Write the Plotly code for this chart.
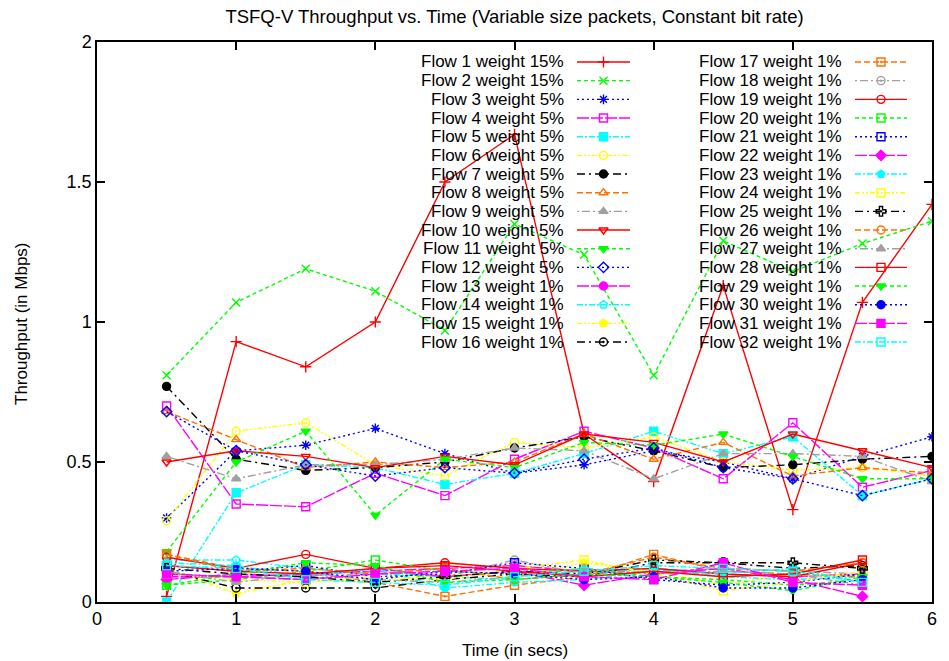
import plotly.graph_objects as go

# ---------------- data ----------------
TITLE = "TSFQ-V Throughput vs. Time (Variable size packets, Constant bit rate)"
X_LABEL = "Time (in secs)"
Y_LABEL = "Throughput (in Mbps)"

times_long = [0.5, 1, 1.5, 2, 2.5, 3, 3.5, 4, 4.5, 5, 5.5, 6]
times_short = [0.5, 1, 1.5, 2, 2.5, 3, 3.5, 4, 4.5, 5, 5.5]

flow_names = [f"Flow {i} weight {w}%" for i, w in
              zip(range(1, 33), [15, 15] + [5] * 10 + [1] * 20)]

flow01 = [0.02, 0.93, 0.84, 1.00, 1.50, 1.67, 0.60, 0.43, 1.13, 0.33, 1.07, 1.42]
flow02 = [0.81, 1.07, 1.19, 1.11, 0.97, 1.35, 1.24, 0.81, 1.29, 1.18, 1.28, 1.36]
flow03 = [0.30, 0.54, 0.56, 0.62, 0.53, 0.46, 0.49, 0.54, 0.50, 0.44, 0.52, 0.59]
flow04 = [0.70, 0.35, 0.34, 0.46, 0.38, 0.51, 0.61, 0.55, 0.44, 0.64, 0.41, 0.47]
flow05 = [0.00, 0.39, 0.49, 0.48, 0.42, 0.46, 0.53, 0.61, 0.53, 0.59, 0.38, 0.44]
flow06 = [0.29, 0.61, 0.64, 0.49, 0.45, 0.57, 0.55, 0.59, 0.50, 0.47, 0.48, 0.45]
flow07 = [0.77, 0.51, 0.47, 0.48, 0.50, 0.55, 0.59, 0.54, 0.48, 0.49, 0.51, 0.52]
flow08 = [0.68, 0.58, 0.48, 0.50, 0.48, 0.50, 0.60, 0.51, 0.57, 0.45, 0.48, 0.46]
flow09 = [0.52, 0.44, 0.49, 0.49, 0.51, 0.55, 0.54, 0.44, 0.53, 0.53, 0.52, 0.43]
flow10 = [0.50, 0.54, 0.52, 0.48, 0.52, 0.49, 0.60, 0.57, 0.50, 0.60, 0.54, 0.48]
flow11 = [0.18, 0.50, 0.61, 0.31, 0.51, 0.48, 0.57, 0.56, 0.60, 0.52, 0.44, 0.44]
flow12 = [0.68, 0.54, 0.49, 0.45, 0.48, 0.46, 0.51, 0.55, 0.48, 0.44, 0.38, 0.44]

flow13 = [0.09, 0.09, 0.10, 0.11, 0.12, 0.13, 0.11, 0.12, 0.10, 0.09, 0.10]
flow14 = [0.15, 0.15, 0.12, 0.10, 0.09, 0.08, 0.10, 0.12, 0.09, 0.08, 0.09]
flow15 = [0.12, 0.03, 0.08, 0.07, 0.10, 0.09, 0.14, 0.11, 0.06, 0.10, 0.09]
flow16 = [0.11, 0.05, 0.05, 0.05, 0.08, 0.10, 0.09, 0.14, 0.14, 0.12, 0.13]
flow17 = [0.17, 0.12, 0.11, 0.07, 0.02, 0.06, 0.09, 0.17, 0.11, 0.10, 0.09]
flow18 = [0.10, 0.09, 0.08, 0.11, 0.09, 0.15, 0.10, 0.11, 0.12, 0.11, 0.10]
flow19 = [0.16, 0.12, 0.17, 0.12, 0.14, 0.12, 0.11, 0.12, 0.10, 0.09, 0.14]
flow20 = [0.06, 0.08, 0.11, 0.15, 0.11, 0.10, 0.12, 0.09, 0.08, 0.06, 0.08]
flow21 = [0.13, 0.11, 0.13, 0.09, 0.10, 0.14, 0.12, 0.08, 0.06, 0.07, 0.10]
flow22 = [0.08, 0.10, 0.09, 0.12, 0.09, 0.11, 0.06, 0.10, 0.12, 0.08, 0.02]
flow23 = [0.14, 0.13, 0.09, 0.12, 0.05, 0.07, 0.08, 0.11, 0.10, 0.12, 0.07]
flow24 = [0.10, 0.08, 0.07, 0.09, 0.08, 0.12, 0.15, 0.10, 0.04, 0.07, 0.11]
flow25 = [0.12, 0.10, 0.09, 0.07, 0.09, 0.11, 0.10, 0.15, 0.14, 0.14, 0.12]
flow26 = [0.17, 0.11, 0.12, 0.10, 0.12, 0.08, 0.10, 0.16, 0.12, 0.11, 0.14]
flow27 = [0.11, 0.07, 0.10, 0.08, 0.07, 0.09, 0.12, 0.10, 0.11, 0.10, 0.06]
flow28 = [0.13, 0.11, 0.10, 0.12, 0.13, 0.11, 0.09, 0.11, 0.09, 0.10, 0.15]
flow29 = [0.06, 0.10, 0.14, 0.13, 0.07, 0.08, 0.10, 0.09, 0.07, 0.04, 0.09]
flow30 = [0.11, 0.12, 0.11, 0.08, 0.11, 0.10, 0.08, 0.09, 0.05, 0.05, 0.08]
flow31 = [0.10, 0.09, 0.08, 0.10, 0.11, 0.12, 0.09, 0.08, 0.14, 0.07, 0.06]
flow32 = [0.13, 0.12, 0.08, 0.07, 0.06, 0.09, 0.11, 0.13, 0.12, 0.11, 0.07]

flows = [flow01, flow02, flow03, flow04, flow05, flow06, flow07, flow08,
         flow09, flow10, flow11, flow12, flow13, flow14, flow15, flow16,
         flow17, flow18, flow19, flow20, flow21, flow22, flow23, flow24,
         flow25, flow26, flow27, flow28, flow29, flow30, flow31, flow32]

x_ticks = [0, 1, 2, 3, 4, 5, 6]
y_ticks = [0, 0.5, 1, 1.5, 2]
y_tick_text = ["0", "0.5", "1", "1.5", "2"]

# ---------------- styles ----------------
COLORS = ["#ff0000", "#00ff00", "#0000ff", "#ff00ff", "#00ffff",
          "#ffff00", "#000000", "#ff7000", "#a0a0a0"]
DASHES = ["solid", "4px,3px", "2px,3px", "12px,2px", "6px,2px,2px,2px",
          "5px,2px,2px,2px,2px,2px", "8px,4px,2px,4px", "6px,3px",
          "2px,3px,8px,3px"]
SYMBOLS = ["cross-thin", "x-thin", "asterisk", "square-open", "square",
           "circle-open", "circle", "triangle-up-open", "triangle-up",
           "triangle-down-open", "triangle-down", "diamond-open", "circle",
           "pentagon-open", "pentagon", "circle-open-dot",
           "square-open-dot", "circle-open-dot", "circle-open", "square-open",
           "square-open-dot", "diamond", "pentagon", "square-open",
           "cross-open-dot", "circle-open", "triangle-up", "square-open",
           "triangle-down", "circle", "square", "square-open"]

FONT = "Liberation Sans, Arial, sans-serif"

# plot area in page pixels
L, R, T, B = 97, 932, 42, 602
W, H = 949, 661


def px_x(p):
    return (p - L) / (R - L)


def px_y(p):
    return (B - p) / (B - T)


fig = go.Figure()

for i, (name, ys) in enumerate(zip(flow_names, flows)):
    col = COLORS[i % 9]
    xs = times_long if len(ys) == len(times_long) else times_short
    fig.add_trace(go.Scatter(
        x=xs, y=ys, mode="lines+markers", name=name, showlegend=False,
        line=dict(color=col, width=1.4, dash=DASHES[i % 9]),
        marker=dict(symbol=SYMBOLS[i], size=8, color=col,
                    line=dict(color=col, width=1.4)),
    ))

# ---------------- gnuplot-style key (text left, sample right) ----------------
ROW0, ROWH = 62, 18.67
COLS = [dict(text_r=566, l0=577, l1=630), dict(text_r=844, l0=855, l1=907)]
annotations = []
for i, name in enumerate(flow_names):
    c = COLS[i // 16]
    yy = ROW0 + (i % 16) * ROWH
    col = COLORS[i % 9]
    annotations.append(dict(
        x=px_x(c["text_r"]), y=px_y(yy), xref="paper", yref="paper",
        text=name, showarrow=False, xanchor="right", yanchor="middle",
        font=dict(family=FONT, size=17, color="black")))
    fig.add_trace(go.Scatter(
        x=[c["l0"], (c["l0"] + c["l1"]) / 2, c["l1"]], y=[yy, yy, yy],
        xaxis="x2", yaxis="y2", mode="lines", showlegend=False,
        hoverinfo="skip",
        line=dict(color=col, width=1.4, dash=DASHES[i % 9])))
    fig.add_trace(go.Scatter(
        x=[(c["l0"] + c["l1"]) / 2], y=[yy],
        xaxis="x2", yaxis="y2", mode="markers", showlegend=False,
        hoverinfo="skip",
        marker=dict(symbol=SYMBOLS[i], size=8, color=col,
                    line=dict(color=col, width=1.4))))

# axis titles placed as text at page positions
annotations.append(dict(
    x=px_x((L + R) / 2), y=px_y(650), xref="paper", yref="paper",
    text=X_LABEL, showarrow=False, xanchor="center", yanchor="middle",
    font=dict(family=FONT, size=17, color="black")))
annotations.append(dict(
    x=px_x(21), y=px_y((T + B) / 2 + 2), xref="paper", yref="paper",
    text=Y_LABEL, showarrow=False, xanchor="center", yanchor="middle",
    textangle=-90, font=dict(family=FONT, size=17, color="black")))

axis_common = dict(showgrid=False, zeroline=False, showline=True,
                   linecolor="black", linewidth=1.5, mirror="ticks",
                   ticks="inside", ticklen=8, tickwidth=1.5,
                   tickcolor="black", automargin=False,
                   tickfont=dict(family=FONT, size=18, color="black"))

fig.update_layout(
    width=W, height=H,
    margin=dict(l=L, r=W - R, t=T, b=H - B, pad=0),
    paper_bgcolor="white", plot_bgcolor="white",
    title=dict(text=TITLE, x=(L + R) / 2 / W, xanchor="center",
               y=1 - 17 / H, yanchor="middle",
               font=dict(family=FONT, size=18.5, color="black")),
    xaxis=dict(range=[0, 6], tickvals=x_ticks, **axis_common),
    yaxis=dict(range=[0, 2], tickvals=y_ticks, ticktext=y_tick_text,
               **axis_common),
    xaxis2=dict(range=[L, R], overlaying="x", visible=False, anchor="y2"),
    yaxis2=dict(range=[B, T], overlaying="y", visible=False, anchor="x2"),
    annotations=annotations,
    showlegend=False,
)

fig.write_html("out.html")
